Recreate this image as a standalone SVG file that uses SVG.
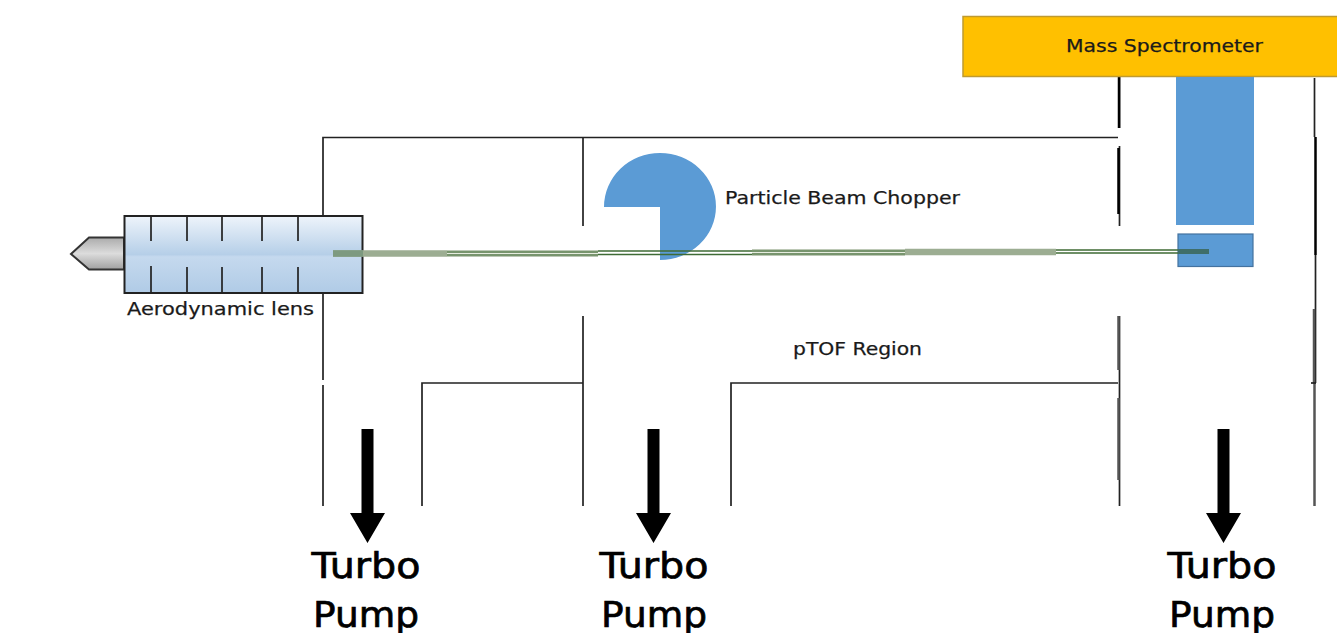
<svg xmlns="http://www.w3.org/2000/svg" width="1337" height="633" viewBox="0 0 1337 633">
<style>
text{font-family:"DejaVu Sans","Liberation Sans",sans-serif;fill:#1a1a1a;stroke:#1a1a1a;stroke-width:.25}
.s{font-size:18px}
.t{font-size:36px;text-anchor:middle;fill:#000;stroke:#000;stroke-width:.7}
.w{stroke:#222;stroke-width:1.700;fill:none}
.g{stroke:#555;stroke-width:2.500;fill:none}
.b{stroke:#000;stroke-width:2.500;fill:none}
.blue{fill:#5b9bd5}
.band{stroke:#9cad92;stroke-width:6.500;fill:none}
.pale{stroke:#a6b69c;stroke-width:6.500;fill:none}
.lines{stroke:#3f6b35;stroke-width:1.300;fill:none}
.core{stroke:#e6ecdf;stroke-width:1;fill:none}
</style>
<defs>
<linearGradient id="lg" x1="0" y1="0" x2="0" y2="1"><stop offset="0" stop-color="#eef4fb"/><stop offset="0.5" stop-color="#b6cfe8"/><stop offset="0.53" stop-color="#c5d9ee"/><stop offset="1" stop-color="#b0cbe6"/></linearGradient>
<linearGradient id="ng" x1="0" y1="0" x2="0" y2="1"><stop offset="0" stop-color="#ababab"/><stop offset="0.5" stop-color="#dcdcdc"/><stop offset="1" stop-color="#a0a0a0"/></linearGradient>
<polygon id="ar" points="-6,0 6,0 6,84 17.500,84 0,114 -17.500,84 -6,84" fill="#000"/>
</defs>
<rect width="1337" height="633" fill="#fff"/>
<g id="connectors">
<path class="w" d="M323 215V137.500H1118M323 293V380M323 385V506M422 506V383H583M583 138V226M583 316V383M583 383V506M731 506V383H1118M1119.500 76V128M1119.500 146V226M1119.500 316V506M1314.500 78V137M1315.500 255V383"/>
<path class="g" d="M1118.500 316V370M1118.500 398V480M1314 309V383M1314.500 383V506"/>
<path class="b" d="M1119 76V128M1118.500 148V214M1315.500 137V255"/>
<path class="w" d="M1311 383H1316"/>
</g>
<g id="pumps">
<use href="#ar" x="367.500" y="429"/><use href="#ar" x="653.500" y="429"/><use href="#ar" x="1223.500" y="429"/>
<text class="t" x="366" y="578" textLength="109" lengthAdjust="spacingAndGlyphs">Turbo</text>
<text class="t" x="366" y="627" textLength="106" lengthAdjust="spacingAndGlyphs">Pump</text>
<text class="t" x="654" y="578" textLength="109" lengthAdjust="spacingAndGlyphs">Turbo</text>
<text class="t" x="654" y="627" textLength="106" lengthAdjust="spacingAndGlyphs">Pump</text>
<text class="t" x="1222" y="578" textLength="109" lengthAdjust="spacingAndGlyphs">Turbo</text>
<text class="t" x="1222" y="627" textLength="106" lengthAdjust="spacingAndGlyphs">Pump</text>
</g>
<g id="lens">
<polygon points="124,237.500 89,237.500 71,254 89,269.500 124,269.500" fill="url(#ng)" stroke="#333" stroke-width="2"/>
<rect x="124.500" y="216" width="238" height="77" fill="url(#lg)" stroke="#222" stroke-width="2"/>
<path class="w" d="M151 216V241M187 216V241M222 216V241M262 216V241M298 216V241M151 266V293M187 267V293M222 267V293M262 267V293M298 267V293"/>
<text class="s" x="127" y="315" textLength="187" lengthAdjust="spacingAndGlyphs">Aerodynamic lens</text>
</g>
<g id="chopper">
<path class="blue" d="M660 207H604A56 54 0 0 1 660 153A56 53.500 0 0 1 660 260Z"/>
<text class="s" x="725" y="204" textLength="235" lengthAdjust="spacingAndGlyphs">Particle Beam Chopper</text>
</g>
<g id="spectrometer">
<rect x="963" y="16.500" width="375" height="60" fill="#ffc000" stroke="#bf9a30" stroke-width="1.500"/>
<text class="s" x="1066" y="52" textLength="197" lengthAdjust="spacingAndGlyphs">Mass Spectrometer</text>
<rect class="blue" x="1176" y="77" width="78" height="148"/>
<rect class="blue" x="1178" y="234" width="75" height="32.500" stroke="#44729f" stroke-width="1.200"/>
</g>
<g id="beam">
<path d="M333 253.500H447" class="band"/>
<path d="M333 253.500H363" stroke="#7d9a80" stroke-width="6.500" fill="none"/>
<path d="M447 253.500H598" class="pale"/>
<path d="M447 253.500H598" class="core"/>
<path d="M447 252H598M447 255H598" class="lines" opacity=".6"/>
<path d="M598 251H752M598 254.500H752" class="lines"/>
<path d="M752 252.500H905" class="pale"/>
<path d="M752 252.500H905" class="core"/>
<path d="M752 251H905M752 254H905" class="lines" opacity=".6"/>
<path d="M905 252H1056" class="band"/>
<path d="M1056 250H1208M1056 253H1208" class="lines"/>
<path d="M1178 251.500H1209" stroke="#3f6e6a" stroke-width="5" fill="none"/>
</g>
<text id="region" class="s" x="793" y="355" textLength="129" lengthAdjust="spacingAndGlyphs">pTOF Region</text>
</svg>
